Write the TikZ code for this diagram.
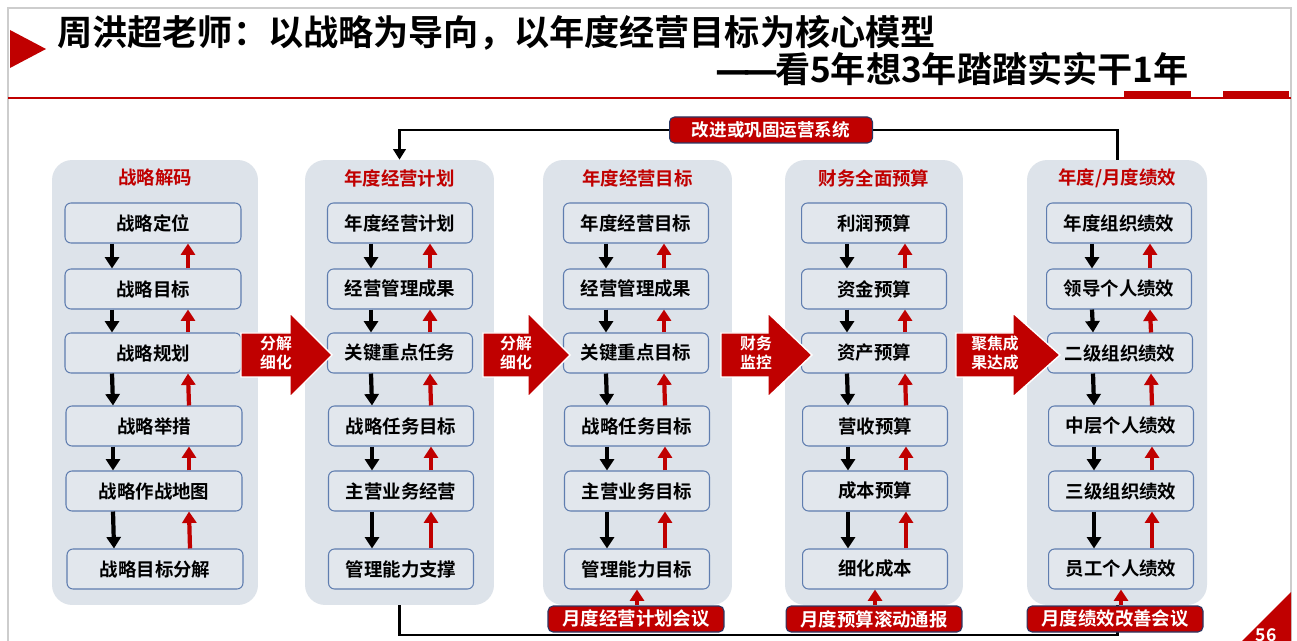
\documentclass[tikz,border=0pt]{standalone}
\usepackage{fontspec}
\setmainfont{Noto Sans CJK SC}[BoldFont={Noto Sans CJK SC Bold}]
\newfontfamily\dashfont{DejaVu Sans}
\usetikzlibrary{arrows.meta}
\definecolor{slidered}{RGB}{192,0,0}
\definecolor{panelgray}{RGB}{221,227,234}
\definecolor{boxgray}{RGB}{226,231,237}
\definecolor{boxline}{RGB}{95,125,175}
\definecolor{navy}{RGB}{40,55,100}
\definecolor{framegray}{RGB}{205,205,205}

\begin{document}
\begin{tikzpicture}[x=0.02cm, y=-0.02cm,
    every node/.style={inner sep=0pt},
    panel/.style={rounded corners=0.4cm, fill=panelgray, minimum width=3.78cm, minimum height=8.9cm},
    head/.style={text=slidered, font=\bfseries\fontsize{10.5}{12}\selectfont},
    item/.style={draw=boxline, line width=0.6pt, fill=boxgray, rounded corners=0.12cm, minimum width=2.9cm, minimum height=0.8cm, font=\bfseries\fontsize{10.5}{12}\selectfont},
    meeting/.style={draw=navy, line width=0.6pt, fill=slidered, rounded corners=0.1cm, text=white, minimum width=3.52cm, minimum height=0.52cm, font=\bfseries\fontsize{10.5}{12}\selectfont},
    dn/.style={line width=2.4pt, -{Triangle[length=6.5pt,width=8pt]}},
    upr/.style={slidered, line width=2.4pt, -{Triangle[length=6.5pt,width=8pt]}},
    bigarrow/.style={fill=slidered, draw=white, line width=0.8pt},
    armtext/.style={text=white, align=center, font=\bfseries\fontsize{9}{10.8}\selectfont},
    loopline/.style={line width=1.7pt}]
    \useasboundingbox (0,0) rectangle (1297,641);
    \fill[white] (0,0) rectangle (1297,641);
    \draw[framegray, line width=0.8pt] (8,8) rectangle (1291,650);

    % title
    \fill[slidered] (10,30) -- (46,49) -- (10,68) -- cycle;
    \node[anchor=west, font=\bfseries\fontsize{20}{24}\selectfont] (title) at (57,33) {周洪超老师：以战略为导向，以年度经营目标为核心模型};
    \node[anchor=east, font=\bfseries\fontsize{20}{24}\selectfont] (subtitle) at (1189,69) {{\dashfont —\kern-0.2em—\kern-0.1em}看5年想3年踏踏实实干1年};
    \draw[slidered, line width=1.2pt] (8,98) -- (1291,98);
    \fill[slidered] (1124,91) rectangle (1191,99);
    \fill[slidered] (1223,91) rectangle (1289,99);

    % columns
    \node[panel, minimum width=4.12cm] (p1) at (155,382.5) {};
    \node[panel] (p2) at (399.5,382.5) {};
    \node[panel] (p3) at (637.5,382.5) {};
    \node[panel, minimum width=3.56cm] (p4) at (874,382.5) {};
    \node[panel, minimum width=3.6cm] (p5) at (1117,382.5) {};

    \node[head] (t1) at (155,178) {战略解码};
    \node[head] (t2) at (399.5,178) {年度经营计划};
    \node[head] (t3) at (637.5,178) {年度经营目标};
    \node[head] (t4) at (874,178) {财务全面预算};
    \node[head] (t5) at (1117,178) {年度/月度绩效};

    \node[item, minimum width=3.52cm] (a1) at (153,223) {战略定位};
    \node[item, minimum width=3.52cm] (a2) at (153,289) {战略目标};
    \node[item, minimum width=3.52cm] (a3) at (153,353) {战略规划};
    \node[item, minimum width=3.52cm] (a4) at (154,426) {战略举措};
    \node[item, minimum width=3.52cm] (a5) at (154,491) {战略作战地图};
    \node[item, minimum width=3.52cm] (a6) at (155,569) {战略目标分解};

    \node[item] (b1) at (400,223) {年度经营计划};
    \node[item] (b2) at (400,289) {经营管理成果};
    \node[item] (b3) at (400,353) {关键重点任务};
    \node[item] (b4) at (401,426) {战略任务目标};
    \node[item] (b5) at (401,491) {主营业务经营};
    \node[item] (b6) at (401,569) {管理能力支撑};

    \node[item] (c1) at (636,223) {年度经营目标};
    \node[item] (c2) at (636,289) {经营管理成果};
    \node[item] (c3) at (636,353) {关键重点目标};
    \node[item] (c4) at (637,426) {战略任务目标};
    \node[item] (c5) at (637,491) {主营业务目标};
    \node[item] (c6) at (637,569) {管理能力目标};

    \node[item] (d1) at (874,223) {利润预算};
    \node[item] (d2) at (874,289) {资金预算};
    \node[item] (d3) at (874,353) {资产预算};
    \node[item] (d4) at (875,426) {营收预算};
    \node[item] (d5) at (875,491) {成本预算};
    \node[item] (d6) at (875,569) {细化成本};

    \node[item] (e1) at (1119,223) {年度组织绩效};
    \node[item] (e2) at (1119,289) {领导个人绩效};
    \node[item] (e3) at (1120,353) {二级组织绩效};
    \node[item] (e4) at (1121,426) {中层个人绩效};
    \node[item] (e5) at (1121,491) {三级组织绩效};
    \node[item] (e6) at (1121,569) {员工个人绩效};

    % down and up arrows
    \draw[dn] ([xshift=-0.82cm]a1.south) -- ([xshift=-0.82cm]a2.north);
    \draw[dn] ([xshift=-0.82cm]a2.south) -- ([xshift=-0.82cm]a3.north);
    \draw[dn] ([xshift=-0.82cm]a3.south) -- ([xshift=-0.82cm]a4.north);
    \draw[dn] ([xshift=-0.82cm]a4.south) -- ([xshift=-0.82cm]a5.north);
    \draw[dn] ([xshift=-0.82cm]a5.south) -- ([xshift=-0.82cm]a6.north);
    \draw[upr] ([xshift=0.7cm]a2.north) -- ([xshift=0.7cm]a1.south);
    \draw[upr] ([xshift=0.7cm]a3.north) -- ([xshift=0.7cm]a2.south);
    \draw[upr] ([xshift=0.7cm]a4.north) -- ([xshift=0.7cm]a3.south);
    \draw[upr] ([xshift=0.7cm]a5.north) -- ([xshift=0.7cm]a4.south);
    \draw[upr] ([xshift=0.7cm]a6.north) -- ([xshift=0.7cm]a5.south);

    \draw[dn] ([xshift=-0.58cm]b1.south) -- ([xshift=-0.58cm]b2.north);
    \draw[dn] ([xshift=-0.58cm]b2.south) -- ([xshift=-0.58cm]b3.north);
    \draw[dn] ([xshift=-0.58cm]b3.south) -- ([xshift=-0.58cm]b4.north);
    \draw[dn] ([xshift=-0.58cm]b4.south) -- ([xshift=-0.58cm]b5.north);
    \draw[dn] ([xshift=-0.58cm]b5.south) -- ([xshift=-0.58cm]b6.north);
    \draw[upr] ([xshift=0.6cm]b2.north) -- ([xshift=0.6cm]b1.south);
    \draw[upr] ([xshift=0.6cm]b3.north) -- ([xshift=0.6cm]b2.south);
    \draw[upr] ([xshift=0.6cm]b4.north) -- ([xshift=0.6cm]b3.south);
    \draw[upr] ([xshift=0.6cm]b5.north) -- ([xshift=0.6cm]b4.south);
    \draw[upr] ([xshift=0.6cm]b6.north) -- ([xshift=0.6cm]b5.south);

    \draw[dn] ([xshift=-0.6cm]c1.south) -- ([xshift=-0.6cm]c2.north);
    \draw[dn] ([xshift=-0.6cm]c2.south) -- ([xshift=-0.6cm]c3.north);
    \draw[dn] ([xshift=-0.6cm]c3.south) -- ([xshift=-0.6cm]c4.north);
    \draw[dn] ([xshift=-0.6cm]c4.south) -- ([xshift=-0.6cm]c5.north);
    \draw[dn] ([xshift=-0.6cm]c5.south) -- ([xshift=-0.6cm]c6.north);
    \draw[upr] ([xshift=0.56cm]c2.north) -- ([xshift=0.56cm]c1.south);
    \draw[upr] ([xshift=0.56cm]c3.north) -- ([xshift=0.56cm]c2.south);
    \draw[upr] ([xshift=0.56cm]c4.north) -- ([xshift=0.56cm]c3.south);
    \draw[upr] ([xshift=0.56cm]c5.north) -- ([xshift=0.56cm]c4.south);
    \draw[upr] ([xshift=0.56cm]c6.north) -- ([xshift=0.56cm]c5.south);

    \draw[dn] ([xshift=-0.54cm]d1.south) -- ([xshift=-0.54cm]d2.north);
    \draw[dn] ([xshift=-0.54cm]d2.south) -- ([xshift=-0.54cm]d3.north);
    \draw[dn] ([xshift=-0.54cm]d3.south) -- ([xshift=-0.54cm]d4.north);
    \draw[dn] ([xshift=-0.54cm]d4.south) -- ([xshift=-0.54cm]d5.north);
    \draw[dn] ([xshift=-0.54cm]d5.south) -- ([xshift=-0.54cm]d6.north);
    \draw[upr] ([xshift=0.62cm]d2.north) -- ([xshift=0.62cm]d1.south);
    \draw[upr] ([xshift=0.62cm]d3.north) -- ([xshift=0.62cm]d2.south);
    \draw[upr] ([xshift=0.62cm]d4.north) -- ([xshift=0.62cm]d3.south);
    \draw[upr] ([xshift=0.62cm]d5.north) -- ([xshift=0.62cm]d4.south);
    \draw[upr] ([xshift=0.62cm]d6.north) -- ([xshift=0.62cm]d5.south);

    \draw[dn] ([xshift=-0.54cm]e1.south) -- ([xshift=-0.54cm]e2.north);
    \draw[dn] ([xshift=-0.54cm]e2.south) -- ([xshift=-0.54cm]e3.north);
    \draw[dn] ([xshift=-0.54cm]e3.south) -- ([xshift=-0.54cm]e4.north);
    \draw[dn] ([xshift=-0.54cm]e4.south) -- ([xshift=-0.54cm]e5.north);
    \draw[dn] ([xshift=-0.54cm]e5.south) -- ([xshift=-0.54cm]e6.north);
    \draw[upr] ([xshift=0.62cm]e2.north) -- ([xshift=0.62cm]e1.south);
    \draw[upr] ([xshift=0.62cm]e3.north) -- ([xshift=0.62cm]e2.south);
    \draw[upr] ([xshift=0.62cm]e4.north) -- ([xshift=0.62cm]e3.south);
    \draw[upr] ([xshift=0.62cm]e5.north) -- ([xshift=0.62cm]e4.south);
    \draw[upr] ([xshift=0.62cm]e6.north) -- ([xshift=0.62cm]e5.south);

    % big arrows between the columns
    \filldraw[bigarrow] (241,333) -- (290,333) -- (290,313) -- (332,355) -- (290,397) -- (290,377) -- (241,377) -- cycle;
    \filldraw[bigarrow] (483,333) -- (528,333) -- (528,313) -- (570,355) -- (528,397) -- (528,377) -- (483,377) -- cycle;
    \filldraw[bigarrow] (721,333) -- (768,333) -- (768,313) -- (812,355) -- (768,397) -- (768,377) -- (721,377) -- cycle;
    \filldraw[bigarrow] (956,333) -- (1013,333) -- (1013,313) -- (1060,355) -- (1013,397) -- (1013,377) -- (956,377) -- cycle;
    \node[armtext] (f1) at (276,353) {分解\\细化};
    \node[armtext] (f2) at (516,353) {分解\\细化};
    \node[armtext] (f3) at (756,353) {财务\\监控};
    \node[armtext] (f4) at (995,353) {聚焦成\\果达成};

    % feedback loops
    \coordinate (loop) at (0,635);
    \draw[loopline] (p5.south) -- (p5.south |- loop) -| (p2.south);
    \draw[loopline] (775,130) -| (p5.north);
    \draw[loopline, -{Triangle[length=6pt,width=7pt]}] (775,130) -| (p2.north);
    \node[meeting, minimum width=4.06cm, font=\bfseries\fontsize{10}{12}\selectfont] (fb) at (771,130) {改进或巩固运营系统};

    \node[meeting] (m1) at (636,619) {月度经营计划会议};
    \node[meeting] (m2) at (874,619) {月度预算滚动通报};
    \node[meeting] (m3) at (1115,619) {月度绩效改善会议};
    \draw[upr] (m1.north -| c6.south) -- (c6.south);
    \draw[upr] (m2.north -| d6.south) -- (d6.south);
    \draw[upr] (m3.north -| e6.south) -- (e6.south);

    % page number
    \fill[slidered] (1242,641) -- (1291,592) -- (1291,641) -- cycle;
    \node[text=white, font=\bfseries\fontsize{10}{12}\selectfont] (page) at (1266,635) {56};
\end{tikzpicture}
\end{document}
